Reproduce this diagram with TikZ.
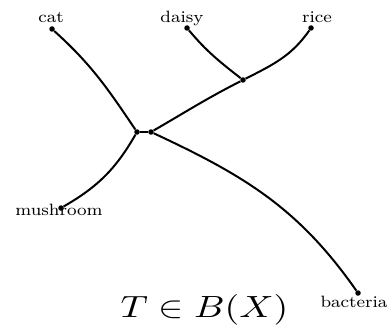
\documentclass[tikz,border=0pt]{standalone}
\newcommand{\labtxt}[1]{\scalebox{2.25}[2.05]{\fontsize{8}{10}\selectfont #1}}
\begin{document}
\begin{tikzpicture}[x=1pt,y=-1pt,
  dot/.style={circle,fill=black,inner sep=0pt,minimum size=5.5pt},
  edge/.style={line width=2pt,black},
  lab/.style={anchor=base,inner sep=0pt}]
\useasboundingbox (0,0) rectangle (390,334);
% vertices
\node[dot] (cat) at (52,29) {};
\node[dot] (daisy) at (187,28) {};
\node[dot] (rice) at (311,28) {};
\node[dot] (n) at (243,80) {};
\node[dot] (l) at (137,132) {};
\node[dot] (r) at (151,132) {};
\node[dot] (mush) at (61,208) {};
\node[dot] (bact) at (358,293) {};
% labels
\node[lab] (tcat) at (51,23) {\labtxt{cat}};
\node[lab] (tdaisy) at (182,23) {\labtxt{daisy}};
\node[lab] (trice) at (317,23) {\labtxt{rice}};
\node[lab] (tmush) at (59,215) {\labtxt{mushroom}};
\node[lab] (tbact) at (354,307) {\labtxt{bacteria}};
\node[lab] (math) at (204.5,317) {\scalebox{3.78}[3.07]{$T\in B(X)$}};
% edges
\draw[edge] (cat) to[out=-42,in=124] (l);
\draw[edge] (daisy) to[out=-50,in=142] (n);
\draw[edge] (rice) to[out=-125,in=27] (n);
\draw[edge] (n) to[out=-153,in=30] (r);
\draw[edge] (l) -- (r);
\draw[edge] (l) to[out=-120,in=30] (mush);
\draw[edge] (r) to[out=-25,in=125] (bact);
\end{tikzpicture}
\end{document}
